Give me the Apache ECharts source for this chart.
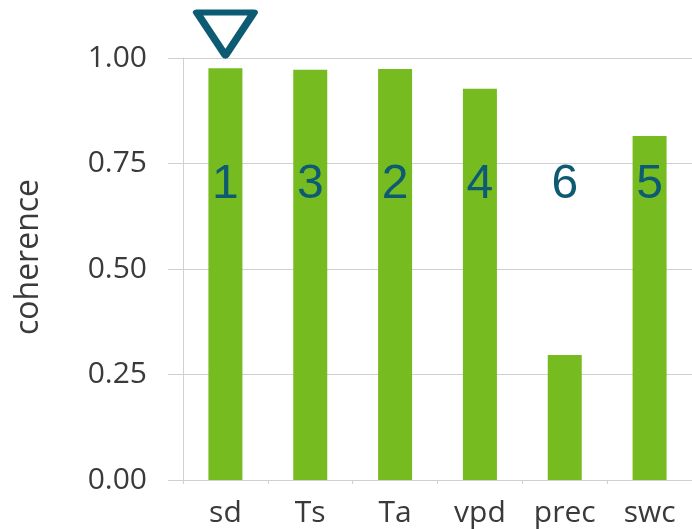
<!DOCTYPE html>
<html>
<head>
    <meta charset="utf-8"/>
    <title>coherence</title>
    <script src="https://cdn.jsdelivr.net/npm/echarts@6/dist/echarts.min.js"></script>
    <style>
        html, body { margin: 0; padding: 0; background: #fff; }
        #main { width: 692px; height: 529px; }
    </style>
</head>
<body>
<div id="main"></div>
<script>
    // 数据
    var categories = ['sd', 'Ts', 'Ta', 'vpd', 'prec', 'swc'];
    var coherence = [0.976, 0.972, 0.974, 0.927, 0.296, 0.815];
    var ranks = [1, 3, 2, 4, 6, 5];
    var rankLevel = 0.70;      // 排名数字所在的高度
    var yTicks = [0, 0.25, 0.5, 0.75, 1.0];

    var green = '#76bc21';
    var teal = '#0d5a73';
    var gray = '#d0d0d0';
    var font = '"Open Sans", sans-serif';

    var rankData = [];
    for (var i = 0; i < categories.length; i++) {
        rankData.push({ value: [categories[i], rankLevel], rank: ranks[i] });
    }

    var chart = echarts.init(document.getElementById('main'));
    var option = {
        animation: false,
        grid: { left: 183, top: 58, width: 513, height: 422 },
        xAxis: {
            type: 'category',
            data: categories,
            axisLine: { lineStyle: { color: gray, width: 1 } },
            axisTick: { show: true, length: 4, lineStyle: { color: gray } },
            axisLabel: { color: '#3a3a3a', fontSize: 30, fontFamily: font, margin: 18 }
        },
        yAxis: {
            type: 'value',
            min: yTicks[0],
            max: yTicks[yTicks.length - 1],
            interval: 0.25,
            name: 'coherence',
            nameLocation: 'middle',
            nameGap: 138,
            nameTextStyle: { color: '#3a3a3a', fontSize: 32, fontFamily: font, padding: [0, 0, 0, 24] },
            axisLine: { show: true, lineStyle: { color: gray } },
            axisTick: { show: true, length: 15, lineStyle: { color: gray } },
            splitLine: { lineStyle: { color: gray } },
            axisLabel: {
                color: '#3a3a3a', fontSize: 30, fontFamily: font, margin: 36,
                formatter: function (v) { return v.toFixed(2); }
            }
        },
        series: [
            {
                name: 'coherence',
                type: 'bar',
                data: coherence,
                barWidth: 34,
                itemStyle: { color: green },
                markPoint: {
                    symbol: 'triangle',
                    symbolRotate: 180,
                    symbolSize: [57, 43],
                    symbolOffset: [0, -24],
                    itemStyle: { color: 'rgba(0,0,0,0)', borderColor: teal, borderWidth: 7, borderJoin: 'round' },
                    label: { show: false },
                    data: [{ coord: [categories[0], 1.0] }]
                }
            },
            {
                name: 'rank',
                type: 'scatter',
                data: rankData,
                symbolSize: 0,
                itemStyle: { color: teal, opacity: 1 },
                label: {
                    show: true,
                    position: 'inside',
                    color: teal,
                    opacity: 1,
                    fontSize: 48,
                    fontFamily: '"Liberation Sans", Arial, sans-serif',
                    formatter: function (p) { return p.data.rank; }
                },
                z: 5
            }
        ]
    };
    chart.setOption(option);
</script>
</body>
</html>
